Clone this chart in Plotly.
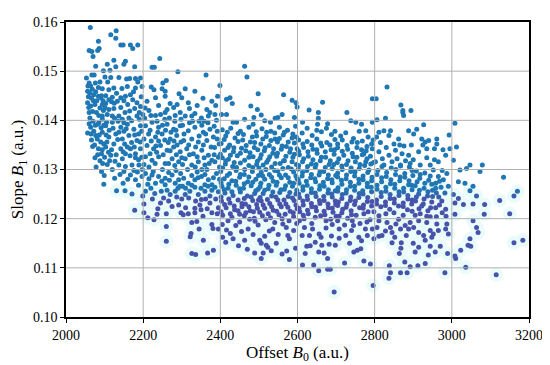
import plotly.graph_objects as go

# ---- data (Offset B0, Slope B1), grouped by B0 band ----
r1_b0 = [2063,2084,2060,2067,2082,2086,2070,2077,2097,2053,
         2060,2067,2073,2064,2084,2094,2056,2077,2084,2090,
         2056,2064,2075,2094,2060,2079,2094,2056,2069,2075,
         2084,2092,2064,2082,2094,2077,2094,2090,2099,2098,
         2058,2066,2071,2088,2062,2070,2085,2091,2072,2081,
         2098,2066,2088,2095,2078,2092,2068,2088,2076,2096,
         2057,2062,2072,2080,2092,2059,2069,2085,2097,2060,
         2076,2098,2065,2086,2074,2094,2082,2100]
r1_b1 = [0.1589,0.1561,0.1542,0.1540,0.1542,0.1546,0.1530,0.1510,0.1501,0.1486,
         0.1476,0.1492,0.1492,0.1470,0.1467,0.1464,0.1459,0.1458,0.1449,0.1446,
         0.1436,0.1429,0.1432,0.1432,0.1416,0.1416,0.1409,0.1374,0.1347,0.1324,
         0.1342,0.1332,0.1386,0.1392,0.1402,0.1369,0.1376,0.1356,0.1288,0.1270,
         0.1448,0.1445,0.1440,0.1425,0.1405,0.1398,0.1395,0.1385,0.1378,0.1362,
         0.1352,0.1360,0.1318,0.1312,0.1305,0.1296,0.1463,0.1478,0.1476,0.1440,
         0.1470,0.1455,0.1452,0.1440,0.1450,0.1426,0.1418,0.1410,0.1420,0.1393,
         0.1390,0.1390,0.1372,0.1370,0.1350,0.1340,0.1330,0.1325]

r2_b0 = [2116,2130,2129,2142,2148,2167,2173,2186,2107,2124,
         2154,2150,2129,2114,2178,2101,2116,2137,2157,2165,
         2180,2193,2186,2111,2124,2159,2180,2197,2103,2111,
         2120,2133,2142,2154,2167,2173,2184,2101,2111,2124,
         2142,2153,2165,2178,2193,2107,2120,2137,2146,2163,
         2184,2199,2103,2107,2116,2127,2137,2146,2154,2159,
         2167,2180,2180,2189,2171,2154,2131,2153,2171,2178,
         2167,2180,2197,2111,2129,2146,2163,2184,2124,2142,
         2193,2103,2120,2142,2159,2176,2193,2199,2112,2135,
         2150,2188,2118,2170,2196,2140,2160,2185,2125,2160,
         2195,2145,2108,
         2105,2126,2150,2170,2190,2104,2122,2137,2156,2178,
         2196,2106,2134,2152,2177,2192,2110,2130,2148,2166,
         2188,2113,2120,2150,2176,2198,2126,2148,2188,2118,
         2150,2190,2131,2175,2103]
r2_b1 = [0.1574,0.1582,0.1567,0.1553,0.1553,0.1553,0.1546,0.1553,0.1514,0.1522,
         0.1520,0.1514,0.1509,0.1502,0.1509,0.1488,0.1487,0.1487,0.1484,0.1485,
         0.1485,0.1486,0.1478,0.1462,0.1466,0.1469,0.1466,0.1469,0.1450,0.1442,
         0.1447,0.1439,0.1446,0.1449,0.1452,0.1442,0.1436,0.1426,0.1422,0.1424,
         0.1426,0.1416,0.1419,0.1424,0.1428,0.1412,0.1409,0.1409,0.1402,0.1405,
         0.1409,0.1412,0.1346,0.1310,0.1329,0.1317,0.1309,0.1322,0.1332,0.1346,
         0.1342,0.1332,0.1324,0.1309,0.1309,0.1306,0.1257,0.1257,0.1250,0.1217,
         0.1289,0.1279,0.1286,0.1366,0.1372,0.1362,0.1369,0.1359,0.1352,0.1342,
         0.1342,0.1389,0.1396,0.1386,0.1392,0.1382,0.1389,0.1246,0.1380,0.1398,
         0.1378,0.1372,0.1340,0.1355,0.1325,0.1290,0.1280,0.1295,0.1435,0.1432,
         0.1448,0.1465,0.1478,
         0.1396,0.1404,0.1395,0.1399,0.1402,0.1370,0.1384,0.1376,0.1383,0.1370,
         0.1378,0.1356,0.1361,0.1352,0.1346,0.1356,0.1335,0.1330,0.1336,0.1328,
         0.1320,0.1318,0.1300,0.1296,0.1298,0.1300,0.1282,0.1272,0.1268,0.1438,
         0.1440,0.1416,0.1455,0.1458,0.1434]

r3_b0 = [2243,2223,2229,2290,2221,2228,2249,2260,2251,2257,
         2210,2232,2257,2270,2279,2257,2232,2245,2283,2296,
         2293,2300,2202,2236,2260,2298,2206,2202,2230,2247,
         2253,2270,2287,2283,2206,2223,2240,2257,2275,2292,
         2232,2257,2283,2206,2223,2240,2262,2279,2296,2214,
         2232,2249,2270,2287,2210,2227,2245,2262,2279,2296,
         2206,2223,2240,2257,2275,2292,2228,2260,2260,2212,
         2215,2250,2285,2220,2268,2212,2245,2275,2290,2265,
         2235,2215,2288,2250,2272,
         2204,2236,2256,2282,2298,2218,2238,2258,2285,2202,
         2221,2240,2256,2280,2298,2218,2233,2252,2270,2286,
         2202,2231,2266,2282,2300,2226,2266,2297,2215,2248,
         2268,2295,2220,2262,2224,2266,2238,2292,2205,2240,
         2262,2288]
r3_b1 = [0.1526,0.1508,0.1508,0.1499,0.1468,0.1462,0.1464,0.1481,0.1476,0.1459,
         0.1439,0.1446,0.1449,0.1434,0.1426,0.1416,0.1410,0.1412,0.1410,0.1416,
         0.1454,0.1446,0.1212,0.1209,0.1210,0.1212,0.1256,0.1230,0.1251,0.1256,
         0.1242,0.1249,0.1244,0.1256,0.1292,0.1289,0.1286,0.1282,0.1289,0.1279,
         0.1272,0.1269,0.1272,0.1389,0.1396,0.1386,0.1392,0.1382,0.1389,0.1372,
         0.1366,0.1372,0.1362,0.1369,0.1349,0.1342,0.1349,0.1339,0.1346,0.1336,
         0.1326,0.1319,0.1326,0.1312,0.1322,0.1316,0.1198,0.1184,0.1154,0.1202,
         0.1305,0.1300,0.1298,0.1410,0.1405,0.1270,0.1232,0.1225,0.1262,0.1355,
         0.1335,0.1420,0.1350,0.1390,0.1376,
         0.1404,0.1398,0.1402,0.1398,0.1402,0.1380,0.1376,0.1380,0.1380,0.1362,
         0.1358,0.1358,0.1360,0.1358,0.1356,0.1332,0.1348,0.1330,0.1338,0.1330,
         0.1310,0.1312,0.1312,0.1308,0.1324,0.1296,0.1294,0.1292,0.1281,0.1276,
         0.1278,0.1266,0.1262,0.1258,0.1240,0.1236,0.1220,0.1228,0.1425,0.1430,
         0.1422,0.1432]

r4_b0 = [2309,2334,2363,2309,2326,2334,2351,2369,2378,2365,
         2373,2317,2388,2393,2399,2358,2386,2317,2334,2334,
         2347,2373,2378,2302,2309,2321,2334,2343,2360,2373,
         2351,2305,2317,2334,2351,2369,2378,2360,2317,2334,
         2356,2373,2305,2326,2343,2365,2382,2313,2330,2352,
         2369,2309,2326,2343,2360,2378,2326,2339,2324,2322,
         2345,2378,2381,2356,2326,2336,2367,2382,2304,2315,
         2340,2365,2390,2385,2395,2392,2320,2345,2390,2395,
         2388,2395,2355,2398,2395,
         2302,2328,2352,2368,2384,2306,2345,2362,2392,2318,
         2336,2356,2376,2397,2320,2340,2358,2384,2302,2335,
         2352,2371,2386,2326,2342,2360,2382,2398,2310,2326,
         2350,2368,2386,2300,2318,2336,2362,2378,2310,2350,
         2366,2392,2340,2355,2320]
r4_b1 = [0.1464,0.1459,0.1492,0.1409,0.1409,0.1414,0.1405,0.1409,0.1439,0.1422,
         0.1416,0.1436,0.1430,0.1449,0.1471,0.1398,0.1412,0.1210,0.1212,0.1221,
         0.1228,0.1232,0.1212,0.1266,0.1249,0.1256,0.1264,0.1249,0.1256,0.1246,
         0.1239,0.1282,0.1272,0.1279,0.1286,0.1279,0.1269,0.1269,0.1379,0.1386,
         0.1376,0.1382,0.1359,0.1362,0.1356,0.1359,0.1366,0.1342,0.1332,0.1339,
         0.1329,0.1322,0.1309,0.1316,0.1309,0.1319,0.1192,0.1194,0.1170,0.1163,
         0.1179,0.1188,0.1180,0.1156,0.1129,0.1127,0.1130,0.1136,0.1208,0.1300,
         0.1295,0.1300,0.1292,0.1345,0.1325,0.1378,0.1395,0.1398,0.1400,0.1255,
         0.1240,0.1222,0.1205,0.1305,0.1179,
         0.1390,0.1398,0.1390,0.1395,0.1388,0.1372,0.1368,0.1372,0.1362,0.1350,
         0.1346,0.1350,0.1346,0.1352,0.1330,0.1326,0.1324,0.1330,0.1310,0.1305,
         0.1300,0.1312,0.1316,0.1288,0.1283,0.1290,0.1283,0.1280,0.1262,0.1268,
         0.1262,0.1266,0.1264,0.1240,0.1242,0.1236,0.1240,0.1258,0.1222,0.1218,
         0.1220,0.1210,0.1430,0.1445,0.1424]

r5_b0 = [2463,2469,2416,2425,2431,2498,2479,2496,2463,2487,
         2403,2416,2433,2442,2485,2416,2414,2433,2440,2463,
         2472,2498,2489,2476,
         2405,2427,2452,2474,2493,
         2414,2438,2460,2483,
         2402,2424,2446,2467,2489,
         2411,2434,2455,2477,2497,
         2405,2421,2444,2463,2485,
         2413,2432,2452,2474,2494,
         2401,2424,2441,2462,2483,
         2410,2430,2450,2471,2492,
         2404,2420,2441,2460,2480,2498,
         2412,2433,2452,2470,2489,
         2403,2425,2446,2465,2484,
         2415,2437,2456,2477,2496,
         2406,2430,2450,2462,2488,
         2418,2446,2494,
         2410,2435,2458,2478,
         2420,2466,2488,
         2400,2426,2452,2474,
         2414,2436,2496,
         2406,2442,2463,2484,
         2418,2452,2474,2499,
         2402,2422,2440,2462,2484,
         2410,2430,2450,2492,
         2402,2422,2462,2480,2499,
         2411,2436,2456,2474,2494,
         2402,2426,2446,2466,2486,
         2420,2450,2490,2405,2426,2455,2485,2447,2470,2406]
r5_b1 = [0.1510,0.1488,0.1443,0.1446,0.1434,0.1454,0.1429,0.1422,0.1402,0.1406,
         0.1412,0.1412,0.1396,0.1396,0.1392,0.1177,0.1152,0.1159,0.1186,0.1156,
         0.1179,0.1187,0.1130,0.1199,
         0.1381,0.1384,0.1378,0.1386,0.1377,
         0.1368,0.1364,0.1371,0.1366,
         0.1353,0.1350,0.1357,0.1349,0.1355,
         0.1339,0.1336,0.1343,0.1334,0.1340,
         0.1324,0.1321,0.1328,0.1319,0.1326,
         0.1311,0.1306,0.1313,0.1308,0.1310,
         0.1296,0.1292,0.1298,0.1290,0.1296,
         0.1281,0.1277,0.1284,0.1275,0.1280,
         0.1266,0.1262,0.1268,0.1262,0.1267,0.1260,
         0.1252,0.1247,0.1254,0.1246,0.1251,
         0.1236,0.1232,0.1238,0.1230,0.1237,
         0.1222,0.1218,0.1224,0.1216,0.1221,
         0.1207,0.1203,0.1209,0.1206,0.1201,
         0.1376,0.1373,0.1368,
         0.1361,0.1344,0.1360,0.1356,
         0.1345,0.1338,0.1345,
         0.1331,0.1329,0.1333,0.1325,
         0.1318,0.1314,0.1317,
         0.1303,0.1304,0.1300,0.1304,
         0.1288,0.1290,0.1285,0.1288,
         0.1273,0.1270,0.1276,0.1271,0.1274,
         0.1259,0.1255,0.1261,0.1257,
         0.1244,0.1240,0.1241,0.1244,0.1238,
         0.1229,0.1226,0.1231,0.1224,0.1229,
         0.1214,0.1210,0.1216,0.1212,0.1214,
         0.1196,0.1193,0.1195,0.1188,0.1170,0.1174,0.1168,0.1145,0.1138,0.1162]

r6_b0 = [2564,2586,2596,2599,2560,2542,2549,2530,2506,2592,
         2515,2502,2506,2515,2519,2523,2506,2511,2536,2562,
         2571,2575,2579,2572,2579,2595,
         2508,2531,2553,2574,2595,
         2519,2542,2563,2586,
         2505,2527,2548,2571,2592,
         2514,2536,2558,2580,2599,
         2503,2524,2546,2566,2588,
         2511,2533,2555,2576,2597,
         2506,2527,2549,2569,2590,
         2515,2537,2558,2580,2599,
         2503,2524,2545,2566,2587,
         2511,2533,2554,2576,2596,
         2506,2528,2549,2570,2591,
         2515,2537,2558,2581,2599,
         2509,2530,2552,2590,
         2541,2598,
         2520,2541,2566,2588,
         2510,2531,2553,2576,2597,
         2516,2538,2560,2582,
         2506,2528,2548,2570,2592,
         2520,2542,2564,2586,
         2500,2518,2541,2562,2584,
         2510,2533,2553,2576,2596,
         2505,2526,2547,2569,2590,
         2515,2536,2557,2580,2598,
         2503,2522,2544,2565,2587,
         2511,2533,2554,2575,2596,
         2502,2524,2546,2568,2589,
         2518,2560,2578,2527,2550,2590,2545,2560,2532]
r6_b1 = [0.1452,0.1441,0.1436,0.1427,0.1412,0.1404,0.1406,0.1396,0.1411,0.1406,
         0.1399,0.1156,0.1150,0.1164,0.1146,0.1142,0.1119,0.1130,0.1179,0.1189,
         0.1182,0.1166,0.1159,0.1134,0.1117,0.1140,
         0.1383,0.1378,0.1386,0.1380,0.1388,
         0.1367,0.1362,0.1370,0.1364,
         0.1352,0.1349,0.1356,0.1347,0.1354,
         0.1338,0.1333,0.1341,0.1335,0.1342,
         0.1323,0.1320,0.1327,0.1318,0.1325,
         0.1309,0.1305,0.1312,0.1304,0.1310,
         0.1294,0.1290,0.1297,0.1289,0.1295,
         0.1280,0.1276,0.1283,0.1274,0.1281,
         0.1265,0.1261,0.1268,0.1260,0.1266,
         0.1251,0.1246,0.1253,0.1245,0.1250,
         0.1236,0.1231,0.1238,0.1230,0.1237,
         0.1221,0.1217,0.1224,0.1215,0.1220,
         0.1206,0.1202,0.1208,0.1204,
         0.1192,0.1190,
         0.1376,0.1374,0.1376,0.1372,
         0.1362,0.1359,0.1363,0.1356,0.1366,
         0.1344,0.1342,0.1348,0.1342,
         0.1330,0.1326,0.1333,0.1327,0.1331,
         0.1315,0.1312,0.1318,0.1316,
         0.1303,0.1300,0.1298,0.1302,0.1301,
         0.1287,0.1284,0.1289,0.1283,0.1287,
         0.1272,0.1268,0.1274,0.1267,0.1272,
         0.1258,0.1254,0.1259,0.1253,0.1258,
         0.1243,0.1239,0.1244,0.1238,0.1242,
         0.1228,0.1224,0.1230,0.1223,0.1228,
         0.1213,0.1210,0.1215,0.1209,0.1212,
         0.1198,0.1200,0.1196,0.1175,0.1168,0.1176,0.1150,0.1128,0.1135]

r7_b0 = [2630,2654,2654,2665,2613,2652,2678,
         2612,2620,2624,2633,2613,2642,2655,2655,2669,2678,
         2678,2685,2695,2663,2682,2698,2656,2674,2661,2631,
         2639,2674,2605,
         2612,2638,2662,2688,
         2603,2625,2650,2676,2697,
         2616,2640,2663,2687,
         2605,2628,2651,2673,2695,
         2613,2636,2659,2682,
         2602,2624,2646,2668,2690,
         2612,2634,2656,2678,2699,
         2604,2625,2647,2669,2690,
         2614,2636,2657,2679,2698,
         2605,2626,2648,2669,2690,
         2615,2637,2658,2680,2699,
         2606,2628,2649,2671,2692,
         2617,2646,2686,
         2625,2650,2675,2697,
         2614,2637,2660,2684,
         2603,2627,2650,2672,2696,
         2616,2640,2662,2685,
         2603,2626,2648,2672,2694,
         2613,2636,2658,2680,
         2602,2623,2645,2667,2689,
         2614,2636,2658,2680,
         2603,2625,2646,2668,2689,
         2614,2636,2657,2679,2698,
         2604,2626,2647,2669,2690,
         2615,2660,2700,2690,
         2618,2646,2688,2637]
r7_b1 = [0.1421,0.1416,0.1404,0.1437,0.1396,0.1392,0.1393,
         0.1166,0.1129,0.1144,0.1145,0.1106,0.1106,0.1094,0.1132,0.1130,0.1119,
         0.1097,0.1097,0.1051,0.1146,0.1148,0.1146,0.1169,0.1181,0.1162,0.1166,
         0.1179,0.1196,0.1196,
         0.1374,0.1369,0.1377,0.1371,
         0.1360,0.1357,0.1362,0.1355,0.1361,
         0.1345,0.1341,0.1348,0.1340,
         0.1330,0.1327,0.1333,0.1325,0.1331,
         0.1316,0.1311,0.1318,0.1310,
         0.1301,0.1298,0.1304,0.1296,0.1302,
         0.1287,0.1283,0.1289,0.1281,0.1288,
         0.1272,0.1268,0.1275,0.1266,0.1273,
         0.1258,0.1253,0.1260,0.1252,0.1257,
         0.1243,0.1239,0.1245,0.1237,0.1244,
         0.1228,0.1224,0.1231,0.1222,0.1229,
         0.1214,0.1210,0.1216,0.1208,0.1213,
         0.1200,0.1203,0.1199,
         0.1384,0.1380,0.1384,0.1378,
         0.1352,0.1350,0.1354,0.1350,
         0.1337,0.1336,0.1340,0.1336,0.1340,
         0.1322,0.1320,0.1325,0.1318,
         0.1308,0.1306,0.1310,0.1304,0.1310,
         0.1294,0.1290,0.1295,0.1289,
         0.1279,0.1276,0.1281,0.1274,0.1279,
         0.1265,0.1261,0.1267,0.1259,
         0.1250,0.1246,0.1252,0.1245,0.1250,
         0.1236,0.1231,0.1237,0.1230,0.1236,
         0.1221,0.1217,0.1223,0.1215,0.1221,
         0.1207,0.1206,0.1205,0.1188,
         0.1182,0.1152,0.1165,0.1190]

r8_b0 = [2728,2738,2751,2766,2794,2794,2777,2794,2772,2777,
         2722,2746,2755,2772,2725,2740,2759,2776,2708,2742,
         2704,2789,2796,2764,2781,2798,2794,
         2712,2745,2783,
         2704,2728,2755,2780,
         2716,2742,2766,2789,
         2707,2731,2754,2790,
         2715,2739,2762,2785,
         2704,2727,2749,2770,2793,
         2714,2737,2759,2781,
         2705,2727,2748,2769,2791,
         2716,2738,2760,2782,
         2706,2728,2750,2771,2793,
         2717,2739,2761,2783,
         2708,2730,2752,2788,
         2722,2762,
         2725,2760,2796,
         2716,2741,2768,2792,
         2704,2730,2754,2778,
         2720,2744,2768,2780,
         2703,2727,2750,2774,2797,
         2716,2738,2760,2782,
         2704,2726,2748,2770,2792,
         2715,2737,2759,2781,
         2704,2726,2748,2770,2792,
         2715,2737,2759,2781,
         2704,2726,2748,2770,2792,
         2715,2740,2772,2798,
         2745,2780,2708,2735,2766]
r8_b1 = [0.1416,0.1399,0.1396,0.1392,0.1444,0.1396,0.1379,0.1342,0.1332,0.1316,
         0.1110,0.1132,0.1136,0.1114,0.1166,0.1176,0.1162,0.1179,0.1179,0.1196,
         0.1196,0.1108,0.1064,0.1139,0.1166,0.1159,0.1179,
         0.1368,0.1363,0.1366,
         0.1352,0.1349,0.1355,0.1347,
         0.1337,0.1333,0.1340,0.1327,
         0.1322,0.1318,0.1325,0.1311,
         0.1307,0.1303,0.1310,0.1299,
         0.1293,0.1289,0.1295,0.1287,0.1284,
         0.1278,0.1274,0.1280,0.1272,
         0.1263,0.1259,0.1266,0.1257,0.1264,
         0.1249,0.1244,0.1251,0.1243,
         0.1234,0.1230,0.1236,0.1228,0.1235,
         0.1219,0.1216,0.1222,0.1214,
         0.1205,0.1201,0.1207,0.1198,
         0.1187,0.1190,
         0.1375,0.1378,0.1360,
         0.1360,0.1356,0.1358,0.1352,
         0.1344,0.1341,0.1345,0.1338,
         0.1329,0.1326,0.1330,0.1322,
         0.1314,0.1310,0.1316,0.1308,0.1314,
         0.1300,0.1296,0.1302,0.1294,
         0.1285,0.1281,0.1287,0.1279,0.1277,
         0.1270,0.1266,0.1272,0.1265,
         0.1256,0.1252,0.1258,0.1250,0.1255,
         0.1241,0.1237,0.1243,0.1235,
         0.1227,0.1223,0.1229,0.1221,0.1226,
         0.1212,0.1208,0.1210,0.1214,
         0.1186,0.1193,0.1160,0.1150,0.1155]

r9_b0 = [2832,2804,2868,2873,2873,2875,2894,2828,2806,2811,
         2824,2841,2837,2862,2888,2854,2837,2811,2871,2888,
         2802,2824,2845,2867,2892,2838,2841,2837,2867,2884,
         2878,2892,2864,2868,2869,2811,2819,2806,2811,2832,
         2841,2845,2852,2845,2867,2879,2888,2862,2892,2811,
         2808,2831,2855,2878,2897,
         2818,2842,2866,2889,
         2806,2829,2852,2875,2896,
         2817,2840,2863,2886,
         2805,2828,2851,2874,2897,
         2816,2839,2862,2885,
         2829,2850,2874,
         2850,2876,2815,
         2819,2843,2867,2890,
         2806,2830,2854,2878,2899,
         2818,2841,2865,2888,
         2806,2829,2852,2875,2897,
         2817,2840,2863,2886,
         2805,2828,2851,2874,2896,
         2897,
         2820,2858,2880,2900,2830,2865,2895,2805,
         2855,2828,2882,2900]
r9_b1 = [0.1468,0.1444,0.1431,0.1420,0.1416,0.1410,0.1420,0.1404,0.1401,0.1376,
         0.1379,0.1379,0.1369,0.1362,0.1379,0.1339,0.1329,0.1336,0.1332,0.1329,
         0.1316,0.1309,0.1316,0.1309,0.1312,0.1104,0.1090,0.1079,0.1090,0.1090,
         0.1112,0.1102,0.1129,0.1140,0.1151,0.1164,0.1166,0.1182,0.1196,0.1192,
         0.1182,0.1172,0.1162,0.1151,0.1179,0.1186,0.1179,0.1199,0.1192,0.1206,
         0.1298,0.1294,0.1300,0.1292,0.1298,
         0.1283,0.1279,0.1285,0.1277,
         0.1268,0.1264,0.1270,0.1262,0.1268,
         0.1253,0.1249,0.1255,0.1247,
         0.1238,0.1234,0.1240,0.1232,0.1238,
         0.1224,0.1219,0.1226,0.1218,
         0.1210,0.1212,0.1207,
         0.1352,0.1348,0.1355,
         0.1306,0.1303,0.1307,0.1305,
         0.1290,0.1286,0.1290,0.1284,0.1288,
         0.1275,0.1271,0.1277,0.1269,
         0.1260,0.1256,0.1262,0.1254,0.1259,
         0.1245,0.1241,0.1247,0.1240,
         0.1230,0.1227,0.1232,0.1225,0.1230,
         0.1215,
         0.1322,0.1322,0.1318,0.1320,0.1345,0.1350,0.1350,0.1366,
         0.1189,0.1175,0.1166,0.1150]

r10_b0 = [2909,2901,2922,2931,2940,2961,2961,2993,2955,2935,
          2914,2918,2944,2965,2984,2995,2978,2987,2965,2974,
          2984,2991,2927,2912,2931,2982,2905,2914,2939,2944,
          2957,2970,2989,2901,2914,2927,2931,2948,2952,2944,
          2965,2984,2991,2987,2961,2935,2914,
          2908,2930,2952,
          2917,2940,2958,
          2905,2928,2950,2972,
          2914,2937,2960,
          2906,2926,2948,
          2915,2938,2958,2975,
          2905,2944,
          2918,2944,2975,
          2910,2930,2948,2968,
          2916,2938,2958,2982,
          2908,2928,2950,2966,
          2922,2945,2968,
          2918,2935,2960,2985,
          2935,2955,2925,2977]
r10_b1 = [0.1382,0.1372,0.1362,0.1356,0.1359,0.1362,0.1352,0.1370,0.1342,0.1342,
          0.1336,0.1309,0.1309,0.1316,0.1329,0.1342,0.1279,0.1292,0.1286,0.1236,
          0.1219,0.1266,0.1391,0.1104,0.1109,0.1090,0.1132,0.1142,0.1126,0.1144,
          0.1132,0.1144,0.1129,0.1182,0.1172,0.1166,0.1156,0.1162,0.1169,0.1176,
          0.1176,0.1179,0.1169,0.1189,0.1189,0.1192,0.1196,
          0.1297,0.1293,0.1299,
          0.1282,0.1278,0.1272,
          0.1267,0.1262,0.1258,0.1264,
          0.1250,0.1246,0.1252,
          0.1236,0.1230,0.1234,
          0.1220,0.1216,0.1222,0.1212,
          0.1207,0.1204,
          0.1290,0.1287,0.1298,
          0.1275,0.1272,0.1270,0.1276,
          0.1258,0.1255,0.1262,0.1252,
          0.1244,0.1240,0.1245,0.1244,
          0.1226,0.1222,0.1228,
          0.1210,0.1205,0.1204,0.1205,
          0.1324,0.1320,0.1350,0.1340]

r11_b0 = [3008,3012,3004,3021,3038,3047,3079,3073,3134,3017,
          3034,3055,3047,3064,3004,3017,3008,3030,3055,3085,
          3124,3161,3170,3084,3150,3008,3010,3008,3023,3036,
          3042,3049,3047,3064,3068,3055,3115,3161,3184]
r11_b1 = [0.1394,0.1346,0.1319,0.1299,0.1302,0.1309,0.1309,0.1296,0.1284,0.1275,
          0.1272,0.1266,0.1257,0.1246,0.1249,0.1241,0.1232,0.1229,0.1230,0.1229,
          0.1237,0.1246,0.1256,0.1209,0.1210,0.1209,0.1119,0.1124,0.1136,0.1101,
          0.1146,0.1144,0.1159,0.1182,0.1172,0.1196,0.1086,0.1151,0.1156]

x_ticks = [2000, 2200, 2400, 2600, 2800, 3000, 3200]
y_ticks = [0.10, 0.11, 0.12, 0.13, 0.14, 0.15, 0.16]

b0_groups = [r1_b0, r2_b0, r3_b0, r4_b0, r5_b0, r6_b0, r7_b0, r8_b0, r9_b0, r10_b0, r11_b0]
b1_groups = [r1_b1, r2_b1, r3_b1, r4_b1, r5_b1, r6_b1, r7_b1, r8_b1, r9_b1, r10_b1, r11_b1]
b0, b1 = [], []
for gx, gy in zip(b0_groups, b1_groups):
    n = min(len(gx), len(gy))
    b0 += gx[:n]
    b1 += gy[:n]

# very light cyan haze behind the lower (purple) part of the cloud
halo_x = [x for x, y in zip(b0, b1) if y < 0.1266]
halo_y = [y for y in b1 if y < 0.1266]

fig = go.Figure()
fig.add_trace(go.Scatter(
    x=halo_x, y=halo_y, mode="markers", hoverinfo="skip",
    marker=dict(size=14, color="#eafbfb", line=dict(width=0)),
))
fig.add_trace(go.Scatter(
    x=b0, y=b1, mode="markers",
    marker=dict(size=5, color=b1,
                colorscale=[[0, "#4852aa"], [1, "#1f77b4"]],
                cmin=0.1238, cmax=0.1260, line=dict(width=0)),
))

# grid lines drawn above the points, as in the reference
grid_color = "#b0b0b0"
for xv in x_ticks[1:-1]:
    fig.add_shape(type="line", xref="x", yref="paper", x0=xv, x1=xv, y0=0, y1=1,
                  line=dict(color=grid_color, width=1), layer="above")
for yv in y_ticks[1:-1]:
    fig.add_shape(type="line", xref="paper", yref="y", x0=0, x1=1, y0=yv, y1=yv,
                  line=dict(color=grid_color, width=1), layer="above")

axis_common = dict(
    showgrid=False,
    showline=True, linecolor="black", linewidth=1.5, mirror=True,
    ticks="outside", ticklen=4, tickwidth=1, tickcolor="black",
    zeroline=False, tickfont=dict(size=14), layer="above traces",
)
fig.update_xaxes(range=[2000, 3200], tickvals=x_ticks,
                 title=dict(text="Offset <i>B</i><sub>0</sub> (a.u.)", font=dict(size=17), standoff=4),
                 **axis_common)
fig.update_yaxes(range=[0.10, 0.16], tickvals=y_ticks, tickformat=".2f",
                 title=dict(text="Slope <i>B</i><sub>1</sub> (a.u.)", font=dict(size=17), standoff=6),
                 **axis_common)
# the page body adds an 8 px margin, so the figure is 8 px smaller and margins shifted
fig.update_layout(
    width=542, height=357,
    margin=dict(l=57, r=19, t=7, b=42),
    plot_bgcolor="white", paper_bgcolor="white",
    showlegend=False,
    font=dict(family="Liberation Serif, DejaVu Serif, serif", size=14, color="black"),
)
fig.write_html("out.html")
